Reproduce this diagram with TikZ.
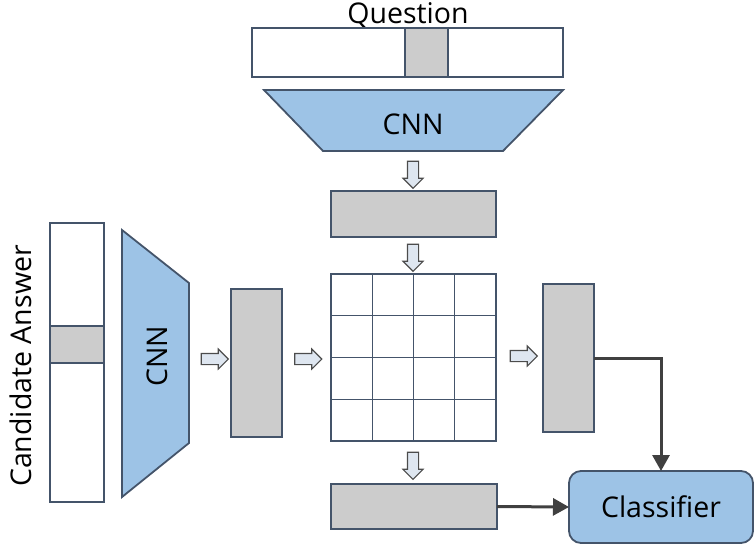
\documentclass[tikz,border=0pt]{standalone}
\usepackage{fontspec}
\setmainfont{Open Sans}
\usetikzlibrary{shapes.arrows,arrows.meta}
\definecolor{edge}{RGB}{68,84,106}
\definecolor{cnnblue}{RGB}{157,195,230}
\definecolor{cellgray}{RGB}{204,204,204}
\definecolor{flowgray}{RGB}{64,64,64}
\definecolor{arrowfill}{RGB}{222,230,240}

\begin{document}
\begin{tikzpicture}[x=1pt,y=-1pt,
  box/.style={draw=edge, line width=1.8pt, inner sep=0pt, outer sep=0pt},
  plain/.style={box, fill=white},
  feat/.style={box, fill=cellgray},
  cnn/.style={draw=edge, line width=1.8pt, fill=cnnblue, line join=miter},
  label/.style={font=\fontsize{28.5}{32}\selectfont, inner sep=0pt},
  flow/.style={single arrow, draw=black!70, fill=arrowfill, line width=1.1pt,
    minimum height=27pt, single arrow head extend=4.5pt, inner sep=5pt},
  link/.style={draw=flowgray, line width=3pt, -{Triangle[length=16pt,width=17pt]}},
]
\useasboundingbox (0,0) rectangle (754,544);

% question encoder
\node[label] (qlabel) at (408,15) {Question};
\node[plain, minimum width=311pt, minimum height=49pt] (qbar) at (407.5,52.5) {};
\node[feat, minimum width=43pt, minimum height=49pt] (qcell) at (426.5,52.5) {};
\draw[cnn] (264,90) -- (563,90) -- (503,151) -- (323,151) -- cycle;
\node[label] (qcnn) at (413,124) {CNN};
\node[flow, rotate=-90] (d1) at (413,172) {};
\node[feat, minimum width=165pt, minimum height=46pt] (qfeat) at (413.5,214) {};
\node[flow, rotate=-90] (d2) at (413,255) {};

% interaction matrix
\node[plain, minimum width=165pt, minimum height=167pt] (grid) at (413.5,357.5) {};
\foreach \i in {1,2,3} {
  \draw[edge, line width=1.1pt] ({331+41.25*\i},274) -- ({331+41.25*\i},441);
  \draw[edge, line width=1.1pt] (331,{274+41.75*\i}) -- (496,{274+41.75*\i});
}
\node[flow, rotate=-90] (d3) at (413,463) {};
\node[feat, minimum width=166pt, minimum height=45pt] (bfeat) at (414,506.5) {};

% candidate answer encoder
\node[label, rotate=90] (alabel) at (21,366) {Candidate Answer};
\node[plain, minimum width=54pt, minimum height=279pt] (abar) at (77,362.5) {};
\node[feat, minimum width=54pt, minimum height=37pt] (acell) at (77,344.5) {};
\draw[cnn] (122,230) -- (189,283) -- (189,443) -- (122,497) -- cycle;
\node[label, rotate=90] (acnn) at (157,356) {CNN};
\node[flow] (r1) at (212,359) {};
\node[feat, minimum width=51pt, minimum height=148pt] (afeat) at (256.5,363) {};
\node[flow] (r2) at (305.5,359) {};

% pooled features and classifier
\node[flow] (r3) at (521,356) {};
\node[feat, minimum width=51pt, minimum height=148pt] (rfeat) at (568.5,358) {};
\node[box, fill=cnnblue, rounded corners=12pt, minimum width=184pt, minimum height=72pt,
  font=\fontsize{28.5}{32}\selectfont] (cls) at (661,507) {Classifier};
\draw[link] (rfeat.east) -| (cls.north);
\draw[link] (bfeat.east) -- (cls.west);
\end{tikzpicture}
\end{document}
